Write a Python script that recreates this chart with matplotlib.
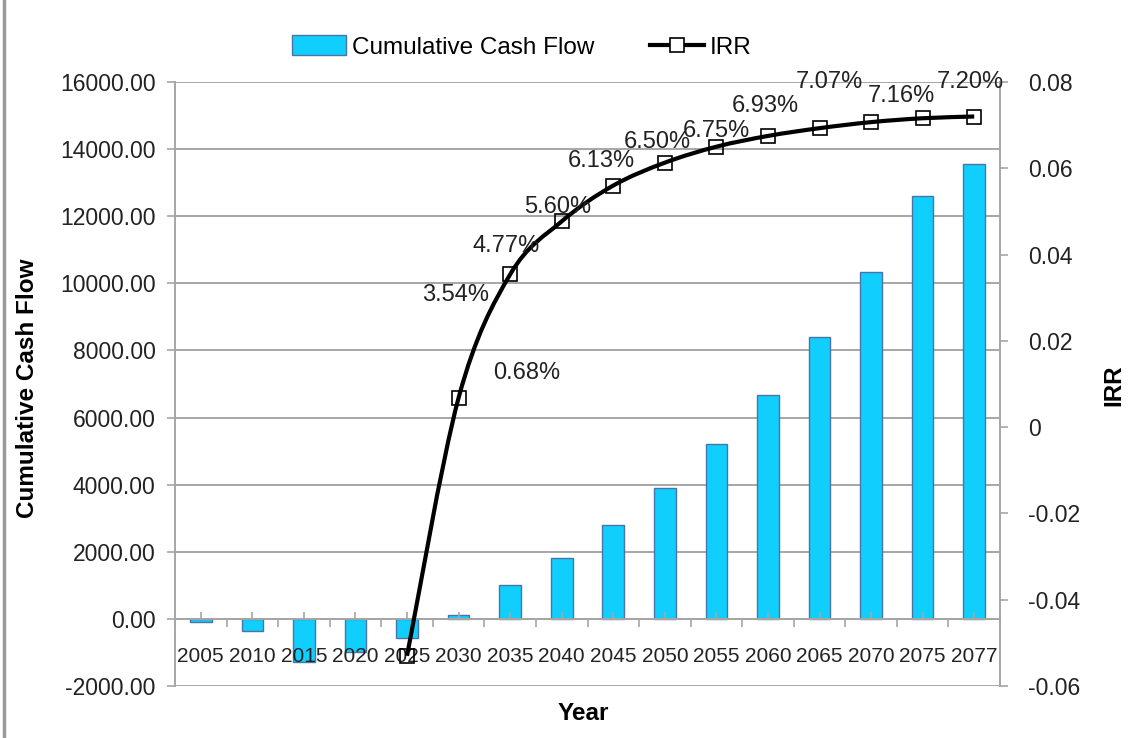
import numpy as np
import matplotlib.pyplot as plt
from matplotlib.path import Path
from matplotlib.patches import PathPatch, Patch
from matplotlib.lines import Line2D
from matplotlib.ticker import FuncFormatter

plt.rcParams['font.family'] = ['Liberation Sans', 'DejaVu Sans']

years = ['2005', '2010', '2015', '2020', '2025', '2030', '2035', '2040',
         '2045', '2050', '2055', '2060', '2065', '2070', '2075', '2077']
cash_flow = [-80, -350, -1270, -1000, -575, 120, 1010, 1820,
             2800, 3900, 5220, 6680, 8400, 10340, 12610, 13560]
# IRR only exists from 2025 on
irr = [np.nan, np.nan, np.nan, np.nan, -0.053, 0.0068, 0.0354, 0.0477,
       0.0560, 0.0613, 0.0650, 0.0675, 0.0693, 0.0707, 0.0716, 0.0720]
irr_labels = ['', '', '', '', '', '0.68%', '3.54%', '4.77%',
              '5.60%', '6.13%', '6.50%', '6.75%', '6.93%', '7.07%', '7.16%', '7.20%']

# where each data label sits relative to its point (pixels, y up)
label_offsets = [None, None, None, None, None, (68, 25), (-55, -21), (-56, -25),
                 (-56, -21), (-64, 2), (-59, 5), (-52, 5), (-54, 22), (-42, 40),
                 (-21, 22), (-4, 35)]

BAR = '#10CFFF'
BAR_EDGE = '#4A74A8'
GRID = '#A6A6A6'
TXT = '#222222'

W, H = 1128, 738
fig = plt.figure(figsize=(W / 100, H / 100), dpi=100)
ax = fig.add_axes([175 / W, (H - 686) / H, (1000 - 175) / W, (686 - 82) / H])

x = np.arange(len(years))
ax.set_xlim(-0.5, len(years) - 0.5)
ax.set_ylim(-2000, 16000)
yt = np.arange(-2000, 16001, 2000)
ax.set_yticks(yt)
# gridlines behind the bars, tick labels above them
for v in yt:
    ax.axhline(v, color=GRID, linewidth=1.4, zorder=0)
ax.bar(x, cash_flow, width=0.42, color=BAR, edgecolor=BAR_EDGE, linewidth=1.0, zorder=1)
ax.yaxis.set_major_formatter(FuncFormatter(lambda v, p: f'{v:.2f}'))

# category axis crosses at zero
ax.spines['bottom'].set_position(('data', 0))
for s in ['top', 'right']:
    ax.spines[s].set_visible(False)
for s in ['left', 'bottom']:
    ax.spines[s].set_color(GRID)
    ax.spines[s].set_linewidth(1.4)
ax.set_xticks(np.arange(-0.5, len(years), 1.0))
ax.set_xticklabels([])
ax.set_xticks(x, minor=True)
ax.set_xticklabels(years, minor=True)
ax.tick_params(axis='x', which='major', direction='out', length=6, color=GRID, width=1.2)
ax.tick_params(axis='x', which='minor', direction='in', length=5, color=GRID, width=1.2,
               pad=20, labelsize=15, labelcolor=TXT)
ax.tick_params(axis='y', direction='out', length=6, color=GRID, width=1.2,
               labelsize=16.5, labelcolor=TXT, pad=8)

ax2 = ax.twinx()
ax2.set_ylim(-0.06, 0.08)
ax2.set_yticks(np.arange(-0.06, 0.0801, 0.02))
ax2.yaxis.set_major_formatter(FuncFormatter(lambda v, p: '0' if abs(v) < 1e-9 else f'{v:.2f}'))
for s in ['top', 'left', 'bottom']:
    ax2.spines[s].set_visible(False)
ax2.spines['right'].set_color(GRID)
ax2.spines['right'].set_linewidth(1.4)
ax2.tick_params(axis='y', direction='out', length=6, color=GRID, width=1.2,
                labelsize=16.5, labelcolor=TXT, pad=14)

# smoothed IRR line (Excel-style bezier through the points)
irr_arr = np.array(irr)
ok = ~np.isnan(irr_arr)
px, py = x[ok].astype(float), irr_arr[ok]
pts = np.column_stack([px, py])
ext = np.vstack([pts[0], pts, pts[-1]])
verts = [tuple(pts[0])]
codes = [Path.MOVETO]
for i in range(len(pts) - 1):
    p0, p1, p2, p3 = ext[i], ext[i + 1], ext[i + 2], ext[i + 3]
    c1 = p1 + (p2 - p0) / 6
    c2 = p2 - (p3 - p1) / 6
    verts += [tuple(c1), tuple(c2), tuple(p2)]
    codes += [Path.CURVE4] * 3
ax2.add_patch(PathPatch(Path(verts, codes), facecolor='none', edgecolor='black',
                        linewidth=3.0, capstyle='butt', zorder=3))
ax2.plot(px, py, ls='none', marker='s', markersize=9.5, mfc='none', mec='black',
         mew=1.2, zorder=4, clip_on=False)

for xi, yi, lab, off in zip(x, irr, irr_labels, label_offsets):
    if off is None:
        continue
    ax2.annotate(lab, (xi, yi), xytext=off, textcoords='offset pixels',
                 ha='center', va='center', fontsize=17, color=TXT, zorder=5)

# axis titles
fig.text(583 / W, 1 - 713 / H, 'Year', ha='center', va='center', fontsize=17.5, fontweight='bold')
fig.text(28 / W, 1 - 388 / H, 'Cumulative Cash Flow', ha='center', va='center',
         rotation=90, fontsize=17.5, fontweight='bold')
fig.text(1114 / W, 1 - 385 / H, 'IRR', ha='center', va='center',
         rotation=90, fontsize=17.5, fontweight='bold')

handles = [Patch(facecolor=BAR, edgecolor=BAR_EDGE, linewidth=1.0),
           Line2D([], [], color='black', lw=3.0, marker='s', markersize=9.5,
                  mfc='white', mec='black', mew=1.2)]
fig.legend(handles, ['Cumulative Cash Flow', 'IRR'], loc='center',
           bbox_to_anchor=(522 / W, 1 - 47 / H), ncol=2, frameon=False,
           fontsize=17.5, handlelength=2.2, handleheight=0.9, handletextpad=0.25,
           columnspacing=2.3)

# chart frame on the left edge
fig.add_artist(Line2D([4 / W, 4 / W], [0, 1], transform=fig.transFigure,
                      color='#9A9A9A', lw=2.5))

fig.savefig('out.png', dpi=100)
